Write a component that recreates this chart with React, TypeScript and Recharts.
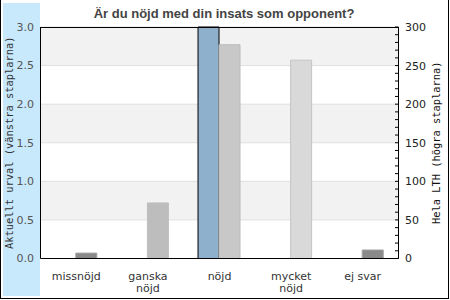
import { BarChart, Bar, XAxis, YAxis, CartesianGrid, Cell } from 'recharts';

const categories = ['missnöjd', 'ganska\nnöjd', 'nöjd', 'mycket\nnöjd', 'ej svar'];
const urval = [0, 0, 3, 0, 0];
const helaLth = [7, 72, 277, 257, 11];
const leftTicks = [0, 0.5, 1, 1.5, 2, 2.5, 3];
const rightTicks = Array.from({ length: 31 }, (_, i) => i * 10);

const LTH_FILLS = ['#8a8a8a', '#bdbdbd', '#c8c8c8', '#d9d9d9', '#8a8a8a'];
const LTH_STROKES = ['#a0a0a0', '#bdbdbd', '#bbbbbb', '#c4c4c4', '#a0a0a0'];

const data = categories.map((cat, i) => ({ cat, urval: urval[i], lth: helaLth[i] }));

const MONO = '"DejaVu Sans Mono", monospace';
const SANS = '"DejaVu Sans", sans-serif';

function CatTick({ x, y, payload }: any) {
  const lines = String(payload.value).split('\n');
  return (
    <text x={x} y={y} textAnchor="middle" fontFamily={SANS} fontSize={11} fill="#333">
      {lines.map((l, i) => (
        <tspan key={i} x={x} dy={i === 0 ? 13 : 12}>{l}</tspan>
      ))}
    </text>
  );
}

function RightTick({ x, y, payload }: any) {
  const axisX = x - 6.5;
  const v = payload.value;
  return (
    <g>
      <line x1={axisX - 3.5} x2={axisX} y1={y} y2={y} stroke="#000" />
      {v % 50 === 0 && (
        <text x={x} y={y} dy="0.36em" textAnchor="start" fontFamily={SANS} fontSize={11} fill="#222">{v}</text>
      )}
    </g>
  );
}

function LeftTitle({ viewBox }: any) {
  const cx = viewBox.x + 13;
  const cy = viewBox.y + viewBox.height / 2;
  return (
    <text x={cx} y={cy} transform={`rotate(-90 ${cx} ${cy})`} textAnchor="middle" fontFamily={MONO} fontSize={10.4} fill="#333">
      Aktuellt urval (vänstra staplarna)
    </text>
  );
}

function RightTitle({ viewBox }: any) {
  const cx = viewBox.x + 41.5;
  const cy = viewBox.y + viewBox.height / 2;
  return (
    <text x={cx} y={cy} transform={`rotate(-90 ${cx} ${cy})`} textAnchor="middle" fontFamily={MONO} fontSize={10.4} fill="#111">
      Hela LTH (högra staplarna)
    </text>
  );
}

export default function App() {
  return (
    <div style={{ position: 'fixed', left: 0, top: 0, width: 450, height: 300, background: '#fff' }}>
      <div style={{ position: 'absolute', left: 3, top: 3, width: 37, height: 293, background: '#c8e8fc' }} />
      <div style={{ position: 'absolute', left: 0, top: 0, width: 449, height: 299, boxSizing: 'border-box', borderLeft: '1px solid #000', borderRight: '1px solid #000', borderBottom: '1px solid #000' }} />
      <div style={{ position: 'absolute', left: 0, top: 0 }}>
        <BarChart width={450} height={300} data={data} margin={{ top: 27, right: 0, bottom: 0, left: 0 }} barCategoryGap="20%" barGap={0}>
          <CartesianGrid yAxisId="left" vertical={false} horizontalFill={['#f2f2f2', '#ffffff']} fillOpacity={1} stroke="#e0e0e0" />
          <XAxis dataKey="cat" height={41.5} interval={0} tickLine={false} tickSize={0} tickMargin={8} axisLine={{ stroke: '#000' }} tick={<CatTick />} />
          <YAxis yAxisId="left" orientation="left" width={40.5} domain={[0, 3]} ticks={leftTicks} tickFormatter={(v: number) => v.toFixed(1)} tickLine={false} tickSize={0} tickMargin={6.5} axisLine={{ stroke: '#000' }} tick={{ fontSize: 11, fill: '#555', fontFamily: SANS }} label={<LeftTitle />} />
          <YAxis yAxisId="right" orientation="right" width={51.5} domain={[0, 300]} ticks={rightTicks} interval={0} tickLine={false} tickSize={0} tickMargin={6.5} axisLine={{ stroke: '#000' }} tick={<RightTick />} label={<RightTitle />} />
          <Bar yAxisId="left" dataKey="urval" fill="#8fb0cc" stroke="#000" isAnimationActive={false} />
          <Bar yAxisId="right" dataKey="lth" isAnimationActive={false}>
            {helaLth.map((_, i) => (
              <Cell key={i} fill={LTH_FILLS[i]} stroke={LTH_STROKES[i]} />
            ))}
          </Bar>
        </BarChart>
      </div>
      <div style={{ position: 'absolute', left: 40, top: 27, width: 359, height: 1, background: '#000' }} />
      <div style={{ position: 'absolute', left: 0, top: 6, width: 448, textAlign: 'center', fontFamily: '"Liberation Sans", Arial, sans-serif', fontWeight: 'bold', fontSize: 13, lineHeight: '15px', color: '#444' }}>
        Är du nöjd med din insats som opponent?
      </div>
    </div>
  );
}
